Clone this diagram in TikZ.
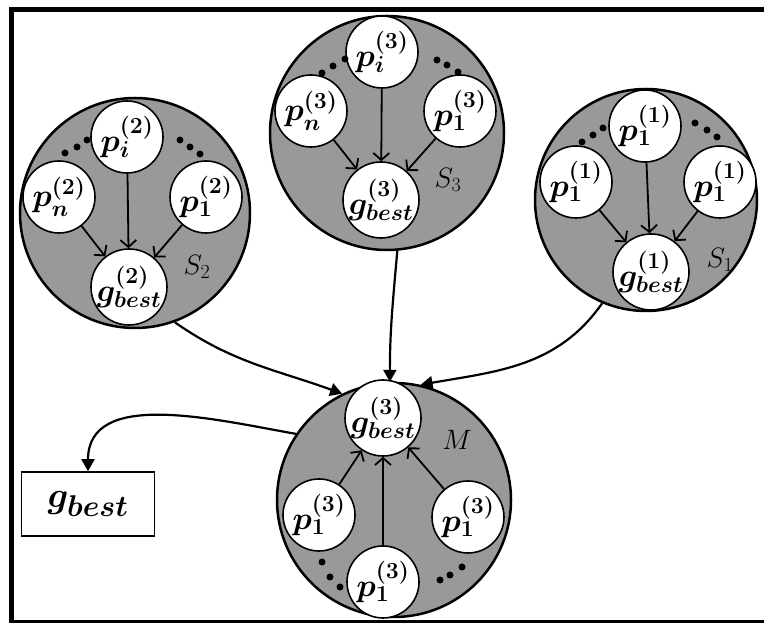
\RequirePackage{fix-cm}
\documentclass[tikz,border=0pt]{standalone}
\usetikzlibrary{arrows.meta}
\DeclareMathSizes{32}{32}{23}{17}
\DeclareMathSizes{36}{36}{30}{22}
\DeclareMathSizes{28}{28}{20}{15}

\tikzset{
  swarm/.style={circle, draw, line width=2.5pt, fill=gray!80, inner sep=0pt},
  particle/.style={circle, draw, line width=1.6pt, fill=white, minimum size=72pt, inner sep=0pt,
    font=\fontsize{32}{36}\selectfont\boldmath},
  swarmlabel/.style={font=\fontsize{28}{32}\selectfont},
  link/.style={-{Straight Barb[length=7pt,width=16pt]}, line width=1.8pt},
  flow/.style={-{Triangle[length=12pt,width=13pt]}, line width=2.2pt},
}

\begin{document}
\begin{tikzpicture}[x=1pt,y=1pt]
  \useasboundingbox (0,0) rectangle (764,623);
  \clip (0,0) rectangle (764,623);
  \draw[line width=4.5pt] (11.5,0.5) rectangle (790,613.5);

  % swarms
  \node[swarm, minimum size=230pt] (S2) at (135,410) {};
  \node[swarm, minimum size=234pt] (S3) at (387,490) {};
  \node[swarm, minimum size=222pt] (S1) at (646,423) {};
  \node[swarm, minimum size=234pt] (M) at (394,123) {};

  % swarm 2
  \node[particle] (S2i) at (127,486) {$p_i^{(2)}$};
  \node[particle] (S2n) at (59,426) {$p_n^{(2)}$};
  \node[particle] (S2o) at (206,426) {$p_1^{(2)}$};
  \node[particle] (S2g) at (129,336) {$g_{best}^{(2)}$};
  \node[swarmlabel] (S2l) at (197,356) {$S_2$};
  \draw[link] (S2i) -- (S2g);
  \draw[link] (S2n) -- (S2g);
  \draw[link] (S2o) -- (S2g);

  % swarm 3
  \node[particle] (S3i) at (382,571) {$p_i^{(3)}$};
  \node[particle] (S3n) at (311,512) {$p_n^{(3)}$};
  \node[particle] (S3o) at (460,512) {$p_1^{(3)}$};
  \node[particle] (S3g) at (381,423) {$g_{best}^{(3)}$};
  \node[swarmlabel] (S3l) at (448,443) {$S_3$};
  \draw[link] (S3i) -- (S3g);
  \draw[link] (S3n) -- (S3g);
  \draw[link] (S3o) -- (S3g);

  % swarm 1
  \node[particle] (S1i) at (645,497) {$p_1^{(1)}$};
  \node[particle] (S1n) at (576,441) {$p_1^{(1)}$};
  \node[particle] (S1o) at (720,441) {$p_1^{(1)}$};
  \node[particle] (S1g) at (651,351) {$g_{best}^{(1)}$};
  \node[swarmlabel] (S1l) at (720,363) {$S_1$};
  \draw[link] (S1i) -- (S1g);
  \draw[link] (S1n) -- (S1g);
  \draw[link] (S1o) -- (S1g);

  % master swarm
  \node[particle] (Mg) at (383,205) {$g_{best}^{(3)}$};
  \node[particle] (Ml) at (319,108) {$p_1^{(3)}$};
  \node[particle] (Mb) at (383,41) {$p_1^{(3)}$};
  \node[particle] (Mr) at (468,106) {$p_1^{(3)}$};
  \node[swarmlabel] (Mlab) at (457,183) {$M$};
  \draw[link] (Ml) -- (Mg);
  \draw[link] (Mb) -- (Mg);
  \draw[link] (Mr) -- (Mg);

  % dots
  \foreach \x/\y in {65/470,77/476,87/483,180/483,190/476,200/469,
                     322/550,333/557,345/564,437/563,447/558,458/551,
                     582/481,593/488,603/495,695/500,707/493,717/486,
                     322/61,330/46,340/36,440/43,450/48,462/56}
    \fill (\x,\y) circle (3.5pt);

  % result
  \node[draw, line width=1.6pt, minimum width=133pt, minimum height=64pt,
        font=\fontsize{36}{40}\selectfont\boldmath] (best) at (88,119) {$g_{best}$};

  \draw[flow] (S2.-70) to[out=-35,in=160] (M.116);
  \draw[flow] (S3.-85) to[out=-95,in=90] (M.92);
  \draw[flow] (S1.-113) to[out=-125,in=10] (M.77);
  \draw[flow] (M.146) to[out=170,in=90] (best.north);
\end{tikzpicture}
\end{document}
